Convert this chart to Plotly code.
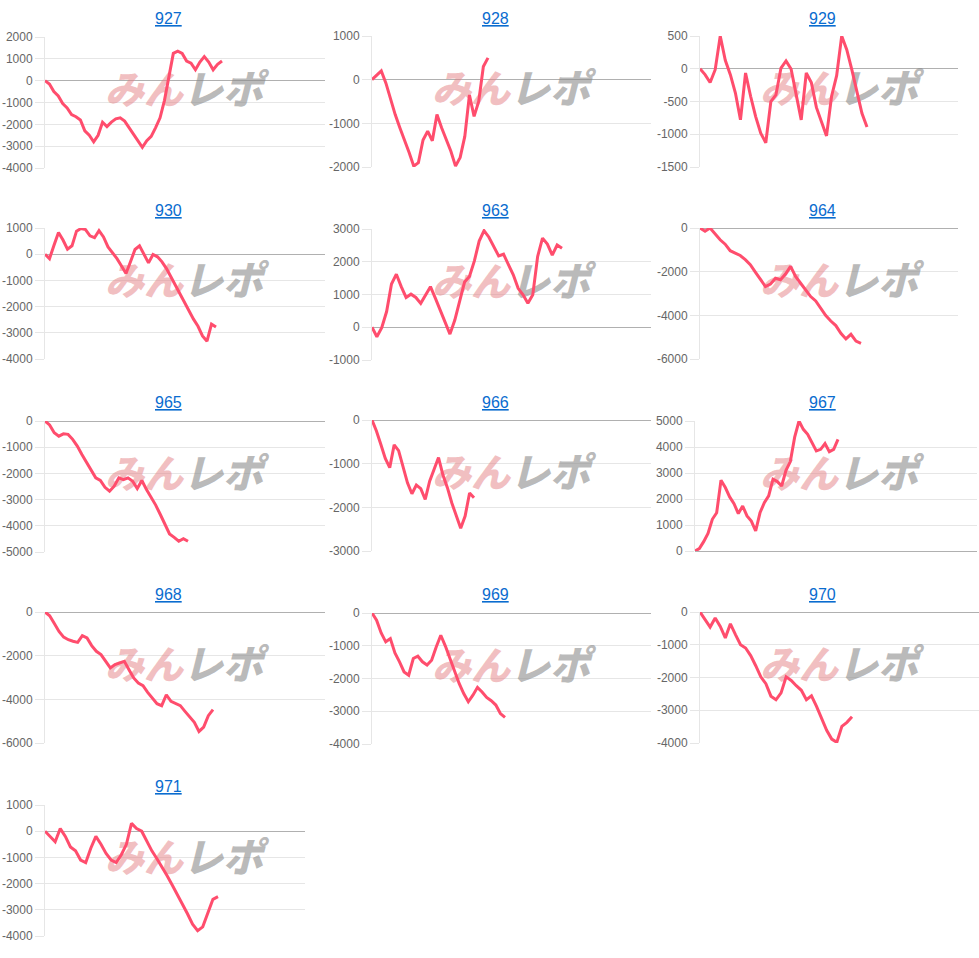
import plotly.graph_objects as go

# ---------------- data ----------------
names = ["927", "928", "929", "930", "963", "964", "965", "966", "967", "968", "969", "970", "971"]

s927 = [0, -150, -500, -700, -1050, -1250, -1550, -1650, -1800, -2300, -2500, -2800, -2500, -1900,
        -2100, -1900, -1750, -1700, -1850, -2150, -2500, -2750, -3050, -2750, -2550, -2150, -1700,
        -900, 200, 1250, 1350, 1250, 900, 800, 500, 850, 1100, 850, 500, 750, 900]
s928 = [0, 100, 200, -80, -450, -800, -1100, -1370, -1670, -1980, -1900, -1380, -1180, -1400, -800,
        -1100, -1370, -1640, -1980, -1780, -1300, -350, -840, -500, 300, 500]
s929 = [0, -90, -210, -15, 500, 130, -90, -370, -780, -65, -420, -730, -985, -1130, -500, -400, 10,
        120, -5, -420, -780, -65, -210, -590, -800, -1025, -420, -105, 500, 290, -15, -370, -680, -890]
s930 = [0, -170, 340, 830, 540, 190, 320, 880, 980, 940, 700, 630, 900, 660, 280, 60, -170, -450,
        -740, -290, 180, 320, 20, -330, -10, -100, -290, -550, -870, -1190, -1540, -1890, -2200,
        -2480, -2750, -3120, -3320, -2670, -2780]
s963 = [0, -290, -10, 480, 1320, 1620, 1240, 910, 1010, 910, 730, 990, 1240, 890, 530, 150, -210,
        220, 790, 1380, 1550, 2020, 2630, 2950, 2750, 2470, 2180, 2230, 1920, 1600, 1190, 990, 730,
        990, 2160, 2720, 2540, 2200, 2510, 2410]
s964 = [0, -150, 0, -280, -540, -740, -1040, -1150, -1260, -1450, -1680, -2020, -2370, -2680, -2570,
        -2300, -2370, -2110, -1760, -2220, -2530, -2830, -3140, -3340, -3670, -4010, -4260, -4470,
        -4820, -5080, -4870, -5180, -5280]
s965 = [0, -150, -450, -580, -490, -510, -700, -960, -1280, -1560, -1860, -2170, -2270, -2530, -2680,
        -2490, -2170, -2240, -2170, -2300, -2580, -2270, -2620, -2910, -3210, -3570, -3950, -4310,
        -4440, -4590, -4490, -4590]
s966 = [0, -250, -560, -880, -1090, -570, -700, -1090, -1440, -1690, -1490, -1570, -1820, -1400,
        -1130, -860, -1260, -1550, -1900, -2200, -2480, -2200, -1670, -1780]
s967 = [0, 90, 360, 680, 1220, 1470, 2720, 2440, 2080, 1820, 1440, 1730, 1350, 1150, 770, 1470,
        1860, 2120, 2760, 2670, 2500, 3100, 3440, 4380, 5000, 4680, 4490, 4170, 3850, 3910, 4130,
        3820, 3910, 4290]
s968 = [0, -170, -530, -890, -1150, -1270, -1340, -1390, -1080, -1190, -1540, -1800, -1950, -2260,
        -2560, -2410, -2340, -2260, -2640, -3020, -3250, -3370, -3680, -3940, -4200, -4290, -3790,
        -4090, -4200, -4290, -4550, -4780, -5050, -5470, -5270, -4750, -4470]
s969 = [0, -220, -610, -880, -780, -1220, -1490, -1800, -1900, -1390, -1320, -1490, -1590, -1440,
        -1040, -680, -1010, -1390, -1800, -2150, -2460, -2710, -2510, -2270, -2410, -2580, -2680,
        -2810, -3070, -3190]
s970 = [0, -250, -460, -180, -440, -790, -360, -690, -1000, -1100, -1330, -1640, -1980, -2190, -2570,
        -2680, -2470, -1980, -2090, -2250, -2390, -2680, -2560, -2880, -3270, -3610, -3880, -3980,
        -3490, -3370, -3200]
s971 = [0, -200, -400, 100, -200, -600, -750, -1100, -1200, -650, -200, -500, -850, -1100, -1200,
        -900, -500, 300, 100, 0, -400, -750, -1050, -1350, -1700, -2050, -2400, -2800, -3150, -3550,
        -3800, -3650, -3150, -2600, -2500]

series = [s927, s928, s929, s930, s963, s964, s965, s966, s967, s968, s969, s970, s971]

# y tick values per chart
t927 = [-4000, -3000, -2000, -1000, 0, 1000, 2000]
t928 = [-2000, -1000, 0, 1000]
t929 = [-1500, -1000, -500, 0, 500]
t930 = [-4000, -3000, -2000, -1000, 0, 1000]
t963 = [-1000, 0, 1000, 2000, 3000]
t964 = [-6000, -4000, -2000, 0]
t965 = [-5000, -4000, -3000, -2000, -1000, 0]
t966 = [-3000, -2000, -1000, 0]
t967 = [0, 1000, 2000, 3000, 4000, 5000]
t968 = [-6000, -4000, -2000, 0]
t969 = [-4000, -3000, -2000, -1000, 0]
t970 = [-4000, -3000, -2000, -1000, 0]
t971 = [-4000, -3000, -2000, -1000, 0, 1000]
ticks = [t927, t928, t929, t930, t963, t964, t965, t966, t967, t968, t969, t970, t971]

# ---------------- layout (pixels) ----------------
W, H = 979, 958
# left, right, top, bottom of plot area, x pixel where the line ends
panels = [
    (45, 325, 37, 168, 222), (372, 651, 36, 167, 488), (700, 958, 36, 167, 867),
    (45, 325, 228, 359, 216), (372, 651, 229, 360, 562), (700, 958, 228, 359, 861),
    (45, 325, 421, 552, 188), (372, 651, 420, 551, 474), (695, 977, 421, 551, 838),
    (45, 325, 612, 743, 213), (372, 651, 613, 744, 505), (700, 979, 612, 743, 852),
    (45, 305, 805, 936, 218),
]
col_left = [45, 372, 700]
col_title_x = [168, 495, 822]
row_title_y = [19, 210, 403, 594, 786]

LINE = "rgb(255,77,109)"
GRID = "#e6e6e6"
FONT = "Liberation Sans, Arial, sans-serif"
WM_FONT = "Noto Sans CJK JP Black, Noto Sans CJK JP"

fig = go.Figure()
annotations = []
layout_axes = {}

for i, (name, ys, tv) in enumerate(zip(names, series, ticks)):
    left, right, top, bottom, end = panels[i]
    row, col = divmod(i, 3)
    n = len(ys)
    xmax = (n - 1) * (right - left) / (end - left)
    ymin, ymax = min(tv), max(tv)
    suffix = "" if i == 0 else str(i + 1)
    xa, ya = "x" + suffix, "y" + suffix

    # watermark (drawn under the line)
    cl = col_left[col]
    cy = top + 57
    wy = ymax - (cy - top) / (bottom - top) * (ymax - ymin)
    wx1 = (cl + 99 - left) / (right - left) * xmax
    wx2 = (cl + 178 - left) / (right - left) * xmax
    fig.add_trace(go.Scatter(
        x=[wx1], y=[wy], mode="text", text=["みん"], xaxis=xa, yaxis=ya,
        textposition="middle center", cliponaxis=False, hoverinfo="skip", showlegend=False,
        textfont=dict(family=WM_FONT, size=39, color="rgba(228,128,132,0.5)",
                      weight=900, style="italic")))
    fig.add_trace(go.Scatter(
        x=[wx2], y=[wy], mode="text", text=["レポ"], xaxis=xa, yaxis=ya,
        textposition="middle center", cliponaxis=False, hoverinfo="skip", showlegend=False,
        textfont=dict(family=WM_FONT, size=40, color="rgba(140,140,140,0.6)",
                      weight=900, style="italic")))

    fig.add_trace(go.Scatter(
        x=list(range(n)), y=ys, mode="lines", xaxis=xa, yaxis=ya,
        line=dict(color=LINE, width=3), showlegend=False))

    layout_axes["xaxis" + suffix] = dict(
        domain=[left / W, right / W], range=[0, xmax], anchor=ya, automargin=False,
        showgrid=False, zeroline=False, showline=False, showticklabels=False, ticks="",
        fixedrange=True)
    layout_axes["yaxis" + suffix] = dict(
        domain=[1 - bottom / H, 1 - top / H], range=[ymin, ymax], anchor=xa, automargin=False,
        tickvals=tv, ticktext=[str(v) for v in tv],
        showgrid=True, gridcolor=GRID, gridwidth=1,
        zeroline=True, zerolinecolor="#b0b0b0", zerolinewidth=1,
        showline=True, linecolor=GRID, linewidth=1,
        ticks="outside", ticklen=9, tickcolor=GRID, tickwidth=1,
        tickfont=dict(family=FONT, size=12, color="#666666"),
        fixedrange=True)

    annotations.append(dict(
        text="<u>" + name + "</u>", xref="paper", yref="paper",
        x=col_title_x[col] / W, y=1 - row_title_y[row] / H,
        xanchor="center", yanchor="middle", showarrow=False,
        font=dict(family=FONT, size=16, color="#0a6ccf")))

fig.update_layout(
    width=W, height=H, margin=dict(l=0, r=0, t=0, b=0, pad=0), autosize=False,
    paper_bgcolor="white", plot_bgcolor="white",
    annotations=annotations, **layout_axes)

fig.write_html("out.html", config={"displayModeBar": False},
               post_script="document.body.style.margin='0';")
